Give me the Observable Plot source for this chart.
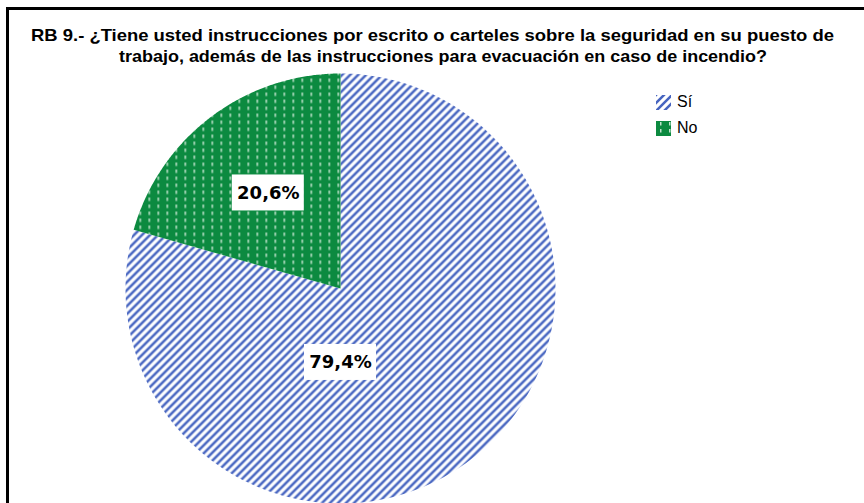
<!DOCTYPE html>
<html>
<head>
<meta charset="utf-8">
<script src="https://cdn.jsdelivr.net/npm/d3@7"></script>
<script src="https://cdn.jsdelivr.net/npm/@observablehq/plot@0.6"></script>
<style>
  html, body { margin: 0; padding: 0; background: #fff; }
  #wrap { position: relative; width: 864px; height: 503px; overflow: hidden; background: #fff; }
  #frame { position: absolute; left: 6px; top: 7px; width: 900px; height: 600px;
           border-left: 3px solid #000; border-top: 3px solid #000; box-sizing: border-box; }
  #chart, #title, #legend, #defs { position: absolute; left: 0; top: 0; }
  #legend { left: 656px; top: 89px; font-family: "Liberation Sans", Arial, sans-serif; font-size: 16px; color: #000; }
  .li { display: flex; align-items: center; height: 26px; }
  .li svg { margin-right: 6px; }
</style>
</head>
<body>
<div id="wrap">
  <svg id="defs" width="0" height="0">
    <defs>
      <pattern id="hatchSi" patternUnits="userSpaceOnUse" width="8" height="8">
        <rect width="8" height="8" fill="#fff"></rect>
        <path d="M-2,2 L2,-2 M0,8 L8,0 M6,10 L10,6" stroke="#4664c0" stroke-width="2.5"></path>
      </pattern>
      <pattern id="dotsNo" patternUnits="userSpaceOnUse" width="9" height="7">
        <rect width="9" height="7" fill="#0c8a40"></rect>
        <rect x="4" y="1" width="1.5" height="3.5" fill="#bfe3cb"></rect>
      </pattern>
    </defs>
  </svg>
  <div id="chart"></div>
  <div id="frame"></div>
  <svg id="title" width="864" height="80"></svg>
  <div id="legend"></div>
</div>
<script>
// ---- data ----
const categories = ["Sí", "No"];
const values = [79.4, 20.6];
const labels = ["79,4%", "20,6%"];
const fills = ["url(#hatchSi)", "url(#dotsNo)"];
const legendFills = ["url(#hatchSi)", "url(#dotsNo)"];
const titleLines = [
  "RB 9.- ¿Tiene usted instrucciones por escrito o carteles sobre la seguridad en su puesto de",
  "trabajo, además de las instrucciones para evacuación en caso de incendio?"
];

// ---- layout ----
const W = 864, H = 503;
const cx = 340, cy = 288, R = 215;   // pie center / radius in pixels
const xDom = [-cx / R, (W - cx) / R];
const yDom = [-(H - cy) / R, cy / R];

const arcs = d3.pie().sort(null).value(d => d)(values);
const slicePts = [];
arcs.forEach((a, i) => {
  slicePts.push({cat: categories[i], x: 0, y: 0});
  const n = 200;
  for (let k = 0; k <= n; k++) {
    const t = a.startAngle + (a.endAngle - a.startAngle) * k / n;
    slicePts.push({cat: categories[i], x: Math.sin(t), y: Math.cos(t)});
  }
  slicePts.push({cat: categories[i], x: 0, y: 0});
});

// label placement (polar: angle in radians from 12 o'clock, radius fraction)
const labelPolar = {"Sí": [Math.PI, 0.344], "No": [(arcs[1].startAngle + arcs[1].endAngle) / 2, 0.557]};
const labelData = categories.map((c, i) => {
  const [a, r] = labelPolar[c];
  return {cat: c, text: labels[i], x: r * Math.sin(a), y: r * Math.cos(a)};
});
const bw = 36 / R, bh = 18 / R;

const plot = Plot.plot({
  width: W, height: H,
  margin: 0,
  x: {domain: xDom, axis: null},
  y: {domain: yDom, axis: null},
  marks: [
    ...categories.map((c, i) => Plot.line(slicePts.filter(d => d.cat === c), {
      x: "x", y: "y", fill: fills[i], stroke: "none", curve: "linear"
    })),
    Plot.rect(labelData, {x1: d => d.x - bw, x2: d => d.x + bw, y1: d => d.y - bh, y2: d => d.y + bh, fill: "#fff"}),
    Plot.text(labelData, {x: "x", y: "y", text: "text", fontSize: 18, fontWeight: "bold",
      fontFamily: "DejaVu Sans, Verdana, sans-serif", fill: "#000"})
  ]
});
document.getElementById("chart").appendChild(plot);

// title
const tsvg = d3.select("#title");
const tl = [{x: 31, y: 41, len: 803}, {x: 119, y: 62, len: 648}];
titleLines.forEach((t, i) => {
  tsvg.append("text")
    .attr("x", tl[i].x).attr("y", tl[i].y)
    .attr("textLength", tl[i].len).attr("lengthAdjust", "spacingAndGlyphs")
    .attr("font-family", "Liberation Sans Narrow, Liberation Sans, Arial, sans-serif")
    .attr("font-weight", "bold").attr("font-size", 17).attr("fill", "#000")
    .text(t);
});

// legend
const leg = d3.select("#legend");
categories.forEach((c, i) => {
  const row = leg.append("div").attr("class", "li");
  const s = row.append("svg").attr("width", 15).attr("height", 15);
  s.append("rect").attr("width", 15).attr("height", 15).attr("fill", legendFills[i]);
  row.append("span").text(c);
});
</script>
</body>
</html>
